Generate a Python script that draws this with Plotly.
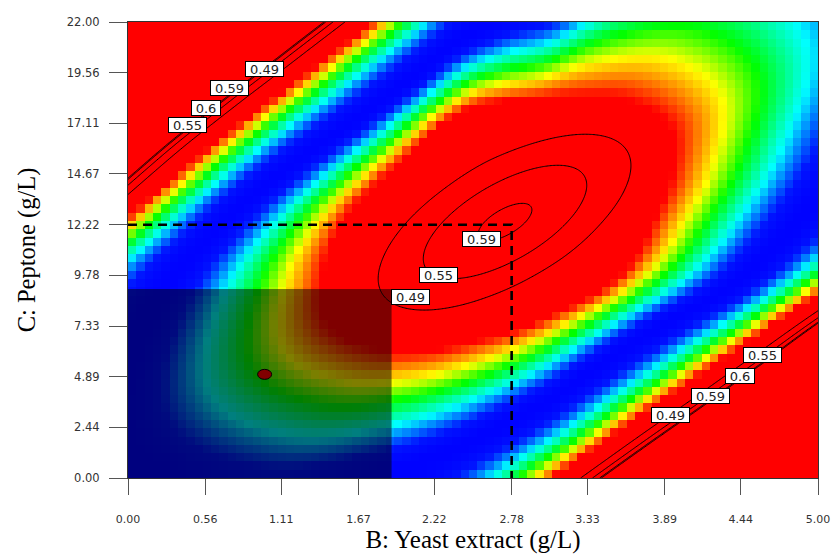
import numpy as np
import plotly.graph_objects as go

# ---------------- data ----------------
B_range = [0.0, 5.0]          # B: Yeast extract (g/L)
C_range = [0.0, 22.0]         # C: Peptone (g/L)
x_tick_labels = ["0.00", "0.56", "1.11", "1.67", "2.22", "2.78", "3.33", "3.89", "4.44", "5.00"]
y_tick_labels = ["0.00", "2.44", "4.89", "7.33", "9.78", "12.22", "14.67", "17.11", "19.56", "22.00"]
contour_levels = [0.49, 0.55, 0.59, 0.6]

# response surface: peak, and the distance (model units)
# from the peak to three reference rings, every 15 degrees
surface_peak_BC = [2.732, 12.351]
surface_units_per_gL = [138.0, 20.727]
surface_peak_value = 0.595
ring_angle_deg = list(range(0, 360, 15))
ring_red_edge = [148, 172, 190, 172, 145, 128, 121, 120, 117, 116, 121, 137,
                 163, 188, 205, 180, 148, 124, 112, 106, 105, 111, 123, 136]
ring_blue_core = [292, 370, 465, 445, 330, 230, 203, 186, 172, 172, 186, 220,
                  280, 370, 440, 390, 300, 240, 202, 182, 172, 175, 194, 238]
ring_outer_line = [441, 600, 640, 650, 620, 424, 325, 278, 259, 259, 278, 323,
                   410, 600, 700, 650, 600, 394, 309, 270, 254, 257, 279, 330]
inner_ellipse_axes = [138.0, 58.0]     # 0.49 contour semi-axes
inner_ellipse_angle = 30.0
level_inner, level_red, level_blue, level_line = 73.0, 117.0, 200.0, 273.0
shape_k2 = 1.97e-5
shape_k4 = 2.4625e-10
color_low, color_high = 0.20, 0.371

grid_nx, grid_ny = 83, 55

optimum_B, optimum_C = 2.78, 12.22
design_point_B, design_point_C = [0.99], [5.0]
shaded_B = [0.0, 1.91]
shaded_C = [0.0, 9.12]
stray_B, stray_C = [2.24], [22.19]

label_text = ["0.59", "0.55", "0.49", "0.49", "0.59", "0.6", "0.55", "0.55", "0.6", "0.59", "0.49"]
label_B = [2.565, 2.25, 2.047, 0.986, 0.739, 0.562, 0.431, 4.598, 4.435, 4.221, 3.931]
label_C = [11.555, 9.77, 8.733, 19.71, 18.82, 17.85, 17.03, 5.934, 4.945, 3.98, 3.04]


def ring(table, phi):
    """periodic Catmull-Rom through the ring readings (in log space)"""
    T = np.log(np.asarray(table, dtype=float))
    n = len(T)
    t = (phi % 360.0) / (360.0 / n)
    i = np.floor(t).astype(int)
    f = t - i
    p0, p1, p2, p3 = T[(i - 1) % n], T[i % n], T[(i + 1) % n], T[(i + 2) % n]
    v = 0.5 * (2 * p1 + (-p0 + p2) * f + (2 * p0 - 5 * p1 + 4 * p2 - p3) * f ** 2
               + (-p0 + 3 * p1 - 3 * p2 + p3) * f ** 3)
    return np.exp(v)


def response(B, C):
    X = (B - surface_peak_BC[0]) * surface_units_per_gL[0]
    Y = (C - surface_peak_BC[1]) * surface_units_per_gL[1]
    d = np.hypot(X, Y)
    phi = np.degrees(np.arctan2(Y, X))
    a = np.deg2rad(phi - inner_ellipse_angle)
    r_in = 1.0 / np.sqrt(np.cos(a) ** 2 / inner_ellipse_axes[0] ** 2 + np.sin(a) ** 2 / inner_ellipse_axes[1] ** 2)
    r_red = np.maximum(ring(ring_red_edge, phi), r_in + 20)
    r_blue = np.maximum(ring(ring_blue_core, phi), r_red + 40)
    r_line = np.maximum(ring(ring_outer_line, phi), r_blue + 40)
    s = np.where(d <= r_in, level_inner * d / r_in,
        np.where(d <= r_red, level_inner + (level_red - level_inner) * (d - r_in) / (r_red - r_in),
        np.where(d <= r_blue, level_red + (level_blue - level_red) * (d - r_red) / (r_blue - r_red),
                 level_blue + (level_line - level_blue) * (d - r_blue) / (r_line - r_blue))))
    s2 = s ** 2
    return surface_peak_value - shape_k2 * s2 + shape_k4 * s2 ** 2


bx = B_range[0] + (np.arange(grid_nx) + 0.5) * (B_range[1] - B_range[0]) / grid_nx
cy = C_range[0] + (np.arange(grid_ny) + 0.5) * (C_range[1] - C_range[0]) / grid_ny
BB, CC = np.meshgrid(bx, cy)
Z = response(BB, CC)

fx = np.linspace(B_range[0], B_range[1], 500)
fy = np.linspace(C_range[0], C_range[1], 500)
FB, FC = np.meshgrid(fx, fy)
FZ = response(FB, FC)

jet = [
    [0.0, "rgb(0,0,255)"],
    [0.07, "rgb(0,20,255)"],
    [0.24, "rgb(0,255,255)"],
    [0.48, "rgb(0,255,0)"],
    [0.69, "rgb(255,255,0)"],
    [0.85, "rgb(255,128,0)"],
    [1.0, "rgb(255,0,0)"],
]

fig = go.Figure()
fig.add_trace(go.Heatmap(x=bx, y=cy, z=Z, zmin=color_low, zmax=color_high,
                         colorscale=jet, showscale=False, hoverinfo="skip"))
for lvl in contour_levels:
    fig.add_trace(go.Contour(x=fx, y=fy, z=FZ, showscale=False, hoverinfo="skip",
                             contours=dict(start=lvl, end=lvl, size=1, coloring="none"),
                             line=dict(color="black", width=1)))

fig.add_trace(go.Scatter(x=[B_range[0], optimum_B, optimum_B], y=[optimum_C, optimum_C, C_range[0]],
                         mode="lines", line=dict(color="black", width=2.6, dash="9px,6px"),
                         hoverinfo="skip", showlegend=False))
fig.add_trace(go.Scatter(x=stray_B, y=stray_C, mode="markers", cliponaxis=False,
                         marker=dict(symbol="square", size=3, color="black"),
                         hoverinfo="skip", showlegend=False))

fig.add_shape(type="rect", xref="x", yref="y", x0=shaded_B[0], x1=shaded_B[1],
              y0=shaded_C[0], y1=shaded_C[1], fillcolor="rgba(0,0,0,0.5)",
              line=dict(width=0), layer="above")
fig.add_shape(type="circle", xref="x", yref="y", xsizemode="pixel", ysizemode="pixel",
              xanchor=design_point_B[0], yanchor=design_point_C[0], x0=-7, x1=7, y0=-5, y1=5,
              fillcolor="rgb(128,0,0)", line=dict(color="black", width=1), layer="above")

for t, b, c in zip(label_text, label_B, label_C):
    fig.add_annotation(x=b, y=c, xref="x", yref="y", text=t, showarrow=False,
                       bgcolor="white", bordercolor="black", borderwidth=1, borderpad=0,
                       width=9 * len(t) + 1, height=14,
                       font=dict(family="DejaVu Sans", size=13, color="#222"))

fig.update_xaxes(range=B_range, tickvals=[float(s) for s in x_tick_labels], ticktext=x_tick_labels,
                 ticks="outside", ticklen=16, tickcolor="#555", tickwidth=1,
                 ticklabelstandoff=15, automargin=False,
                 tickfont=dict(family="DejaVu Sans", size=11, color="#333"),
                 showline=True, linecolor="#333", linewidth=1, mirror=True,
                 showgrid=False, zeroline=False,
                 title=dict(text="B: Yeast extract (g/L)", standoff=5,
                            font=dict(family="Liberation Serif", size=25, color="black")))
fig.update_yaxes(range=C_range, tickvals=[float(s) for s in y_tick_labels], ticktext=y_tick_labels,
                 ticks="outside", ticklen=18, tickcolor="#555", tickwidth=1,
                 ticklabelstandoff=7, automargin=False,
                 tickfont=dict(family="DejaVu Sans", size=11.5, color="#333"),
                 showline=True, linecolor="#333", linewidth=1, mirror=True,
                 showgrid=False, zeroline=False,
                 title=dict(text="C: Peptone (g/L)", standoff=24,
                            font=dict(family="Liberation Serif", size=24.5, color="black")))
fig.update_layout(width=834, height=554, margin=dict(l=128, r=16, t=22, b=76),
                  paper_bgcolor="white", plot_bgcolor="white", showlegend=False)

fig.write_html("out.html")
